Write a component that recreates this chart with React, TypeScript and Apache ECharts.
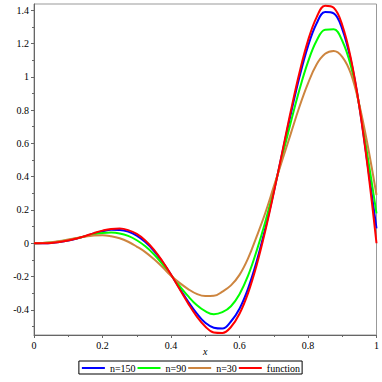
import React, { useEffect, useRef } from "react";
import * as echarts from "echarts";

const xs = [0, 0.025, 0.05, 0.075, 0.1, 0.125, 0.15, 0.175, 0.2, 0.225, 0.25, 0.275, 0.3, 0.325, 0.35, 0.375, 0.4, 0.425, 0.45, 0.475, 0.5, 0.525, 0.55, 0.575, 0.6, 0.625, 0.65, 0.675, 0.7, 0.725, 0.75, 0.775, 0.8, 0.825, 0.85, 0.875, 0.9, 0.925, 0.95, 0.975, 1];
const fnValues = [0, 0.0003, 0.002, 0.007, 0.016, 0.029, 0.044, 0.061, 0.076, 0.086, 0.088, 0.079, 0.056, 0.017, -0.038, -0.108, -0.188, -0.275, -0.361, -0.439, -0.5, -0.536, -0.539, -0.503, -0.423, -0.299, -0.132, 0.072, 0.303, 0.549, 0.796, 1.024, 1.217, 1.357, 1.427, 1.415, 1.311, 1.111, 0.82, 0.444, 0];
const n150Values = [0, 0.0003, 0.002, 0.008, 0.017, 0.029, 0.043, 0.059, 0.072, 0.081, 0.08, 0.07, 0.046, 0.007, -0.045, -0.112, -0.189, -0.27, -0.35, -0.421, -0.478, -0.507, -0.512, -0.47, -0.393, -0.272, -0.11, 0.086, 0.308, 0.543, 0.778, 0.998, 1.184, 1.32, 1.389, 1.381, 1.286, 1.099, 0.821, 0.46, 0.09];
const n90Values = [0, 0.001, 0.004, 0.01, 0.019, 0.03, 0.042, 0.054, 0.062, 0.064, 0.059, 0.044, 0.018, -0.018, -0.066, -0.125, -0.192, -0.256, -0.318, -0.371, -0.408, -0.426, -0.414, -0.378, -0.306, -0.195, -0.046, 0.126, 0.321, 0.524, 0.728, 0.922, 1.089, 1.216, 1.283, 1.285, 1.216, 1.066, 0.825, 0.51, 0.18];
const n30Values = [0, 0.002, 0.006, 0.013, 0.022, 0.031, 0.04, 0.046, 0.048, 0.042, 0.03, 0.009, -0.02, -0.053, -0.095, -0.143, -0.195, -0.238, -0.275, -0.304, -0.317, -0.316, -0.29, -0.253, -0.19, -0.091, 0.04, 0.18, 0.34, 0.5, 0.66, 0.82, 0.96, 1.074, 1.138, 1.155, 1.12, 1.02, 0.83, 0.58, 0.29];

const seriesNames = ["n=150", "n=90", "n=30", "function"];
const seriesColors = ["#0000ff", "#00ff00", "#cd853f", "#ff0000"];
const yMajorTicks = [-0.4, -0.2, 0, 0.2, 0.4, 0.6, 0.8, 1, 1.2, 1.4];
const yMinorTicks = [-0.5, -0.3, -0.1, 0.1, 0.3, 0.5, 0.7, 0.9, 1.1, 1.3];

const FONT = "'Liberation Serif', 'Times New Roman', serif";

export default function App() {
  const ref = useRef<HTMLDivElement>(null);
  useEffect(() => {
    if (!ref.current) return;
    const chart = echarts.init(ref.current, undefined, { renderer: "svg" });
    const allValues = [n150Values, n90Values, n30Values, fnValues];
    const yMin = -0.551;
    const yMax = 1.437;
    chart.setOption({
      animation: false,
      grid: {
        left: 34,
        right: 5,
        top: 4,
        bottom: 47,
        show: true,
        borderColor: "#999",
        borderWidth: 1,
      },
      legend: {
        data: seriesNames,
        left: "center",
        top: 361,
        icon: "rect",
        itemWidth: 23,
        itemHeight: 2,
        itemGap: 2,
        padding: [2, 2, 1, 3],
        borderColor: "#000",
        borderWidth: 1,
        textStyle: { fontFamily: FONT, fontSize: 10, color: "#000" },
      },
      xAxis: {
        type: "value",
        min: 0,
        max: 1,
        interval: 0.2,
        name: "x",
        nameLocation: "middle",
        nameGap: 11,
        nameMoveOverlap: false,
        nameTextStyle: { fontFamily: FONT, fontSize: 10, fontStyle: "italic", color: "#000" },
        axisLine: { show: true, onZero: false, lineStyle: { color: "#666", width: 1 } },
        axisTick: { show: true, length: 3, lineStyle: { color: "#666" } },
        minorTick: { show: true, splitNumber: 2, length: 2, lineStyle: { color: "#666" } },
        axisLabel: { fontFamily: FONT, fontSize: 10, color: "#000", margin: 5 },
        splitLine: { show: false },
      },
      yAxis: [
        {
          type: "value",
          min: yMin,
          max: yMax,
          axisLine: { show: true, onZero: false, lineStyle: { color: "#666", width: 1 } },
          axisTick: { show: true, length: 3, customValues: yMajorTicks, lineStyle: { color: "#666" } },
          axisLabel: { fontFamily: FONT, fontSize: 10, color: "#000", margin: 5, customValues: yMajorTicks },
          splitLine: { show: false },
        },
        {
          type: "value",
          min: yMin,
          max: yMax,
          position: "left",
          axisLine: { show: false, onZero: false },
          axisTick: { show: true, length: 2, customValues: yMinorTicks, lineStyle: { color: "#666" } },
          axisLabel: { show: false },
          splitLine: { show: false },
        },
      ],
      series: seriesNames.map((name, si) => ({
        name,
        type: "line",
        yAxisIndex: 0,
        showSymbol: false,
        symbol: "none",
        smooth: 0.4,
        color: seriesColors[si],
        lineStyle: { width: 2, color: seriesColors[si] },
        data: xs.map((x, i) => [x, allValues[si][i]]),
        z: 2 + si,
      })),
    });
    return () => chart.dispose();
  }, []);
  return (
    <div
      ref={ref}
      style={{ position: "absolute", left: 0, top: 0, width: 382, height: 382 }}
    />
  );
}
